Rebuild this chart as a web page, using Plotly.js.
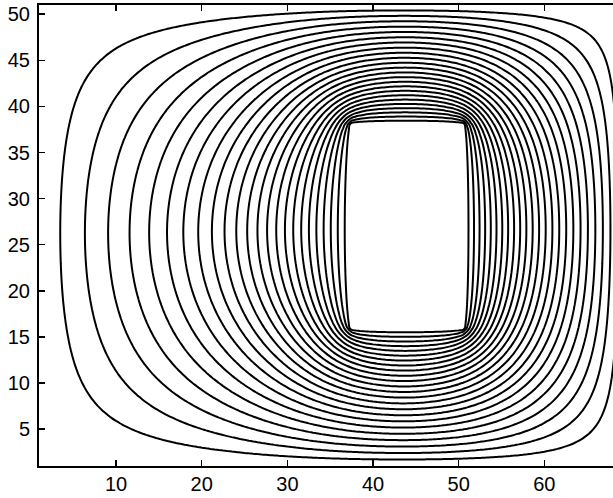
<!DOCTYPE html>
<html>
<head>
<meta charset="utf-8">
<script src="https://cdn.plot.ly/plotly-3.0.1.min.js"></script>
<style>
html,body{margin:0;padding:0;overflow:hidden;background:#fff;width:613px;height:498px;}
#chart{width:640px;height:498px;}
</style>
</head>
<body>
<div id="chart"></div>
<script>
// ---- values ----
const boxX = [0.5, 69.5];        // grounded outer boundary, x extent
const boxY = [1, 51];            // grounded outer boundary, y extent
const conductorX = [37.5, 50.5]; // inner conductor, x extent
const conductorY = [15.8, 38.3]; // inner conductor, y extent
const potentials = [0, 1];       // outer boundary, inner conductor
const levelCount = [24];         // number of equipotential lines drawn
const axisRangeX = [1, 70];
const axisRangeY = [1, 51];
const xTickVals = [10, 20, 30, 40, 50, 60];
const yTickVals = [5, 10, 15, 20, 25, 30, 35, 40, 45, 50];

// ---- potential field (Laplace solution) on a grid ----
const h = 0.5;
const nx = Math.round((boxX[1] - boxX[0]) / h) + 1;
const ny = Math.round((boxY[1] - boxY[0]) / h) + 1;
const xs = [], ys = [];
for (let i = 0; i < nx; i++) xs.push(boxX[0] + i * h);
for (let j = 0; j < ny; j++) ys.push(boxY[0] + j * h);
const V = [], fixed = [];
for (let j = 0; j < ny; j++) {
  const row = new Float64Array(nx), frow = new Uint8Array(nx);
  for (let i = 0; i < nx; i++) {
    const x = xs[i], y = ys[j];
    if (i === 0 || j === 0 || i === nx - 1 || j === ny - 1) { row[i] = potentials[0]; frow[i] = 1; }
    else if (x >= conductorX[0] && x <= conductorX[1] && y >= conductorY[0] && y <= conductorY[1]) { row[i] = potentials[1]; frow[i] = 1; }
    else row[i] = 0.3;
  }
  V.push(row); fixed.push(frow);
}
const omega = 1.92;
for (let it = 0; it < 1500; it++) {
  for (let j = 1; j < ny - 1; j++) {
    const r = V[j], ru = V[j + 1], rd = V[j - 1], f = fixed[j];
    for (let i = 1; i < nx - 1; i++) {
      if (f[i]) continue;
      const g = 0.25 * (r[i - 1] + r[i + 1] + ru[i] + rd[i]);
      r[i] += omega * (g - r[i]);
    }
  }
}
const z = V.map(r => Array.from(r));
const step = (potentials[1] - potentials[0]) / (levelCount[0] + 1);

const trace = {
  type: 'contour', x: xs, y: ys, z: z,
  showscale: false,
  colorscale: [[0, '#000'], [1, '#000']],
  contours: { coloring: 'lines', start: potentials[0] + step, end: potentials[1] - step * 0.5, size: step, showlabels: false },
  line: { color: '#000', width: 2, smoothing: 0.6 },
  hoverinfo: 'skip'
};
const axisBase = {
  showgrid: false, zeroline: false, showline: true, linecolor: '#000', linewidth: 2,
  mirror: 'ticks', ticks: 'inside', ticklen: 6, tickwidth: 1.5, tickcolor: '#000',
  tickfont: { family: 'Liberation Sans, Arial, sans-serif', size: 20, color: '#000' }
};
const layout = {
  width: 640, height: 498,
  margin: { l: 39, r: 10, t: 5, b: 32 },
  paper_bgcolor: '#fff', plot_bgcolor: '#fff',
  showlegend: false,
  xaxis: Object.assign({}, axisBase, { range: axisRangeX, tickvals: xTickVals, ticktext: xTickVals.map(String), ticklabelstandoff: -1 }),
  yaxis: Object.assign({}, axisBase, { range: axisRangeY, tickvals: yTickVals, ticktext: yTickVals.map(String), ticklabelstandoff: 3 })
};
Plotly.newPlot('chart', [trace], layout, { staticPlot: true, displayModeBar: false });
</script>
</body>
</html>
